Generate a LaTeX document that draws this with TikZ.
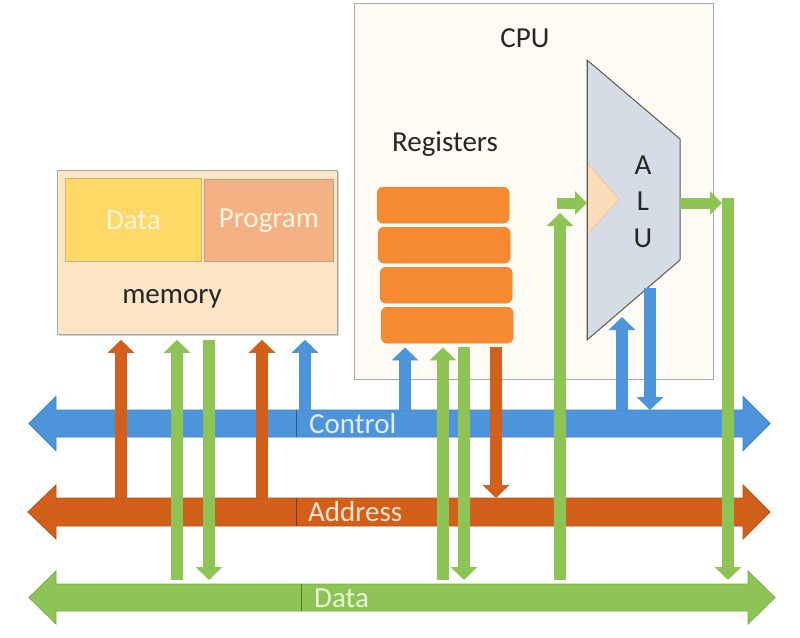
\documentclass[tikz,border=0pt]{standalone}
\usepackage{fontspec}
\setmainfont{Carlito}
\usetikzlibrary{arrows.meta,shadows}
\definecolor{busblue}{HTML}{4E94DA}
\definecolor{busblueline}{HTML}{3E7FC2}
\definecolor{busorange}{HTML}{D2601A}
\definecolor{busorangeline}{HTML}{B85010}
\definecolor{busgreen}{HTML}{8DC455}
\definecolor{busgreenline}{HTML}{76AD42}
\definecolor{cpufill}{HTML}{FDFBF4}
\definecolor{boxline}{HTML}{A6A6A6}
\definecolor{memfill}{HTML}{FCE4C6}
\definecolor{datafill}{HTML}{FFD966}
\definecolor{progfill}{HTML}{F4B183}
\definecolor{regfill}{HTML}{F68A30}
\definecolor{alufill}{HTML}{D6DCE5}
\definecolor{aluline}{HTML}{595959}
\definecolor{notchfill}{HTML}{FCDDB9}
\definecolor{txtdark}{HTML}{262626}
\definecolor{ctrltxt}{HTML}{E4EEF9}
\definecolor{addrtxt}{HTML}{FCE4D0}
\definecolor{datatxt}{HTML}{EAF4D8}
\definecolor{whitetxt}{HTML}{FFF6E0}
\begin{document}
\begin{tikzpicture}[x=1pt,y=-1pt,
  bigtext/.style={font=\fontsize{29pt}{34pt}\selectfont, inner sep=0pt},
  boxnode/.style={draw=boxline, line width=0.8pt, inner sep=0pt, anchor=north west},
  regbox/.style={fill=regfill, draw=regfill!90!black, line width=0.4pt, rounded corners=6pt, inner sep=0pt, anchor=north west, minimum width=132pt, minimum height=36pt},
  varrow/.style={line width=12pt, -{Triangle[width=26pt,length=13pt]}},
  harrow/.style={line width=11pt, -{Triangle[width=23pt,length=12pt]}},
  busshape/.style={line width=0.8pt, line join=miter}
]
\useasboundingbox (0,0) rectangle (800,637);
\fill[white] (0,0) rectangle (800,637);

% CPU box
\node[boxnode, fill=cpufill, minimum width=359pt, minimum height=376pt] (cpu) at (354,3) {};
\node[bigtext, text=txtdark] (cpulbl) at (525,38) {CPU};
\node[bigtext, text=txtdark] (reglbl) at (445,144) {Registers};

% Registers
\node[regbox] (r1) at (377,187) {};
\node[regbox] (r2) at (378,227) {};
\node[regbox] (r3) at (380,267) {};
\node[regbox] (r4) at (381,307) {};

% ALU
\coordinate (aluA) at (587,60);
\coordinate (aluB) at (680,139);
\coordinate (aluC) at (680,260);
\coordinate (aluD) at (587,340);
\filldraw[fill=alufill, draw=aluline, line width=1pt, line join=miter] (aluA) -- (aluB) -- (aluC) -- (aluD) -- cycle;
\filldraw[fill=notchfill, draw=notchfill!70!brown, line width=0.6pt] (587,163) -- (619,199) -- (587,235) -- cycle;
\draw[aluline, line width=1pt] (aluA) -- (aluD);
\node[bigtext, text=txtdark] (tA) at (643,165) {A};
\node[bigtext, text=txtdark] (tL) at (643,201) {L};
\node[bigtext, text=txtdark] (tU) at (643,238) {U};
\coordinate (aluIn) at (587,203);
\coordinate (aluOut) at (680,203);
\coordinate (aluUp) at (622,317);
\coordinate (aluDown) at (650,288);

% Memory
\node[boxnode, fill=memfill, minimum width=280pt, minimum height=164pt,
      drop shadow={shadow xshift=2pt, shadow yshift=-2pt, opacity=0.35}] (mem) at (57,170) {};
\node[boxnode, fill=datafill, draw=datafill!60!gray, minimum width=136pt, minimum height=83pt] (dat) at (65,178) {};
\node[boxnode, fill=progfill, draw=progfill!60!gray, minimum width=129pt, minimum height=82pt] (prog) at (204,179) {};
\node[bigtext, text=whitetxt] (datlbl) at (dat.center) {Data};
\node[bigtext, text=whitetxt] (proglbl) at (prog.center) {Program};
\node[bigtext, text=txtdark] (memlbl) at (172,299) {memory};
\coordinate (memB) at ([yshift=-5pt]mem.south);
\coordinate (regB) at ([yshift=-4pt]r4.south);

% Buses
\filldraw[busshape, fill=busblue, draw=busblueline]
  (29,423.5) -- (56,396.5) -- (56,410) -- (743,410) -- (743,396.5) -- (770,423.5)
  -- (743,450.5) -- (743,437) -- (56,437) -- (56,450.5) -- cycle;
\filldraw[busshape, fill=busorange, draw=busorangeline]
  (28,512) -- (56,485) -- (56,498) -- (743,498) -- (743,485) -- (770,512)
  -- (743,539) -- (743,526) -- (56,526) -- (56,539) -- cycle;
\filldraw[busshape, fill=busgreen, draw=busgreenline]
  (29,597.5) -- (56,571) -- (56,584) -- (748,584) -- (748,571) -- (775,597.5)
  -- (748,624) -- (748,611) -- (56,611) -- (56,624) -- cycle;
\coordinate (ctrlT) at (0,410);
\coordinate (addrT) at (0,498);
\coordinate (dataT) at (0,580);

% Memory connectors
\draw[varrow, busorange] (121,0 |- addrT) -- (121,0 |- memB);
\draw[varrow, busgreen] (177,0 |- dataT) -- (177,0 |- memB);
\draw[varrow, busgreen] (209,0 |- memB) -- (209,0 |- dataT);
\draw[varrow, busorange] (262,0 |- addrT) -- (262,0 |- memB);
\draw[varrow, busblue] (305,0 |- ctrlT) -- (305,0 |- memB);

% Register connectors
\draw[varrow, busblue] (405,0 |- ctrlT) -- (405,0 |- regB);
\draw[varrow, busgreen] (443,0 |- dataT) -- (443,0 |- regB);
\draw[varrow, busgreen] (464,0 |- regB) -- (464,0 |- dataT);
\draw[varrow, busorange] (496,0 |- regB) -- (496,0 |- addrT);

% ALU connectors
\coordinate (gIn) at (560,213);
\draw[varrow, busgreen] (560,0 |- dataT) -- (gIn);
\draw[harrow, busgreen] (557,203) -- (aluIn);
\draw[varrow, busblue] (622,0 |- ctrlT) -- (aluUp);
\draw[varrow, busblue] (aluDown) -- (650,0 |- ctrlT);
\coordinate (gOut) at (722,203);
\draw[harrow, busgreen] (aluOut) -- (gOut);
\draw[varrow, busgreen] (728,197.5) -- (728,0 |- dataT);

% Bus labels
\draw[busblueline!70!black, line width=0.8pt] (296,410) -- (296,437);
\draw[busorangeline!70!black, line width=0.8pt] (296,498) -- (296,526);
\draw[busgreenline!70!black, line width=0.8pt] (301,584) -- (301,611);
\node[bigtext, text=ctrltxt, anchor=west] (ctrllbl) at (309,424) {Control};
\node[bigtext, text=addrtxt, anchor=west] (addrlbl) at (308,512) {Address};
\node[bigtext, text=datatxt, anchor=west] (datalbl) at (314,598) {Data};
\end{tikzpicture}
\end{document}
